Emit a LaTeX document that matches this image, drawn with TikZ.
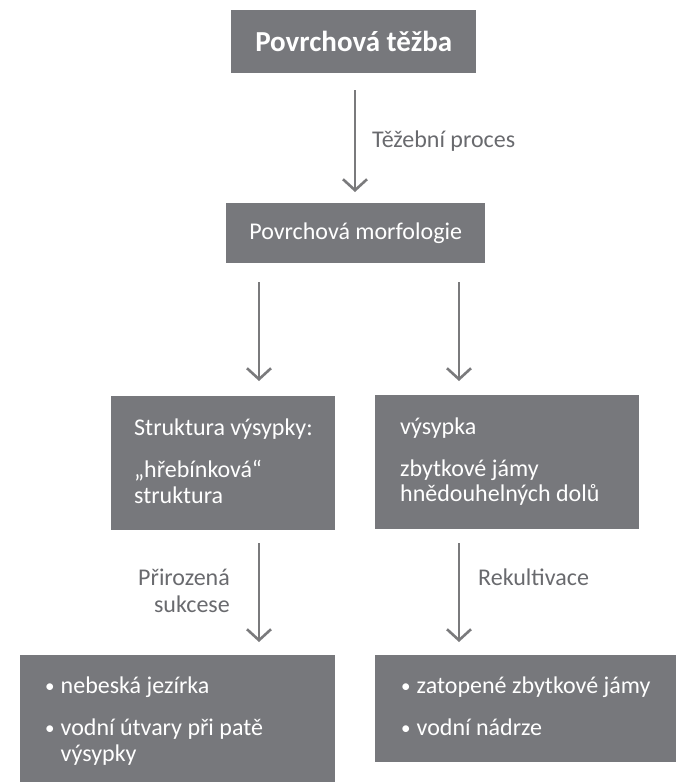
\documentclass[tikz,border=0pt]{standalone}
\usepackage{fontspec}
\setmainfont{Carlito}
\usetikzlibrary{arrows.meta}
\definecolor{boxgray}{RGB}{119,120,124}
\definecolor{linegray}{RGB}{122,122,124}
\definecolor{labelgray}{RGB}{105,106,110}
\newcommand{\blt}{\makebox[15.5pt][l]{\raisebox{1pt}{\fontsize{19}{20}\selectfont •}}}
\tikzset{
  box/.style={fill=boxgray, draw=none, inner sep=0pt, anchor=north west},
  boxtext/.style={text=white, font=\fontsize{24}{26}\selectfont, inner sep=0pt, anchor=base west},
  lbl/.style={text=labelgray, font=\fontsize{24}{26}\selectfont, inner sep=0pt},
  flow/.style={draw=linegray, line width=2.6pt, -{Straight Barb[length=11pt,width=24pt]}}
}
\begin{document}
\begin{tikzpicture}[x=1pt,y=-1pt]
\useasboundingbox (0,0) rectangle (676,782);
% boxes
\node[box, minimum width=245pt, minimum height=63pt] (top) at (231,10) {};
\node[text=white, font=\fontsize{29}{32}\bfseries\selectfont, inner sep=0pt] (toptxt) at (top.center) {Povrchová těžba};
\node[box, minimum width=259pt, minimum height=60pt] (morph) at (226,203) {};
\node[text=white, font=\fontsize{24}{26}\selectfont, inner sep=0pt] (morphtxt) at (morph.center) {Povrchová morfologie};
\node[box, minimum width=224pt, minimum height=134pt] (left) at (111,396) {};
\node[box, minimum width=264pt, minimum height=134pt] (right) at (375,395) {};
\node[box, minimum width=315pt, minimum height=127pt] (botl) at (20,655) {};
\node[box, minimum width=301pt, minimum height=107pt] (botr) at (375,655) {};
% box texts
\node[boxtext] (l1) at (134,435) {Struktura výsypky:};
\node[boxtext] (l2) at (134,477) {„hřebínková“};
\node[boxtext] (l3) at (134,503) {struktura};
\node[boxtext] (r1) at (400,434) {výsypka};
\node[boxtext] (r2) at (400,476) {zbytkové jámy};
\node[boxtext] (r3) at (400,501) {hnědouhelných dolů};
\node[boxtext] (bl1) at (45,693) {\blt nebeská jezírka};
\node[boxtext] (bl2) at (45,735) {\blt vodní útvary při patě};
\node[boxtext] (bl3) at (60.5,761) {výsypky};
\node[boxtext] (br1) at (401,693) {\blt zatopené zbytkové jámy};
\node[boxtext] (br2) at (401,735) {\blt vodní nádrze};
% arrows
\coordinate (a1s) at (355,90);  \coordinate (a1e) at (355,192);
\coordinate (a2s) at (259,282); \coordinate (a2e) at (259,381);
\coordinate (a3s) at (459,282); \coordinate (a3e) at (459,381);
\coordinate (a4s) at (259,543); \coordinate (a4e) at (259,642);
\coordinate (a5s) at (459,543); \coordinate (a5e) at (459,642);
\draw[flow] (a1s) -- (a1e);
\draw[flow] (a2s) -- (a2e);
\draw[flow] (a3s) -- (a3e);
\draw[flow] (a4s) -- (a4e);
\draw[flow] (a5s) -- (a5e);
% labels
\node[lbl, anchor=base west] (t1) at (372,147) {Těžební proces};
\node[lbl, anchor=base east] (t2) at (230,585) {Přirozená};
\node[lbl, anchor=base east] (t3) at (230,612) {sukcese};
\node[lbl, anchor=base west] (t4) at (478,585) {Rekultivace};
\end{tikzpicture}
\end{document}
